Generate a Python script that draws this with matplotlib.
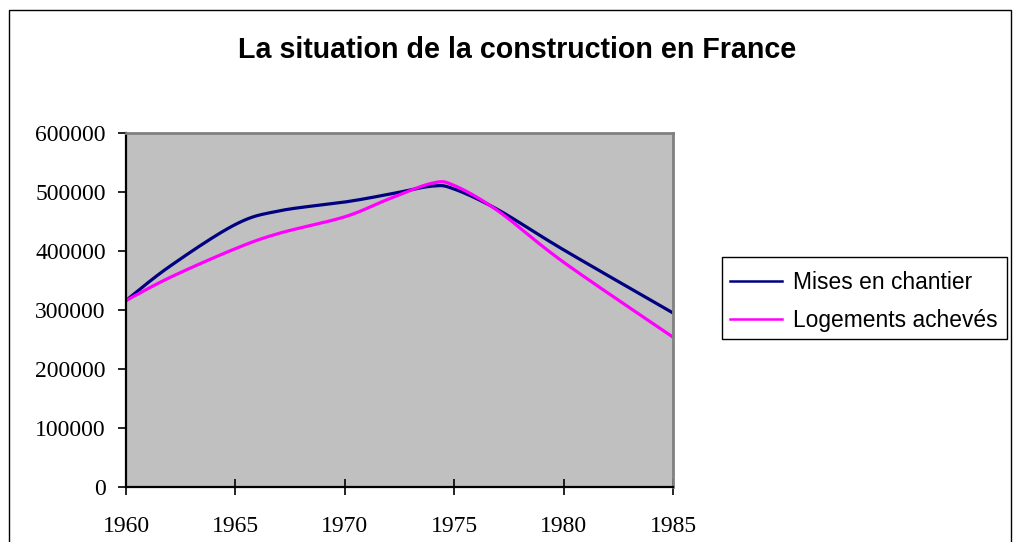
import numpy as np
import matplotlib
matplotlib.use("Agg")
import matplotlib.pyplot as plt
from matplotlib.patches import Rectangle

# ---- data ----
years = [1960, 1962, 1965, 1967, 1970, 1972, 1974, 1975, 1977, 1980, 1985]
mises_en_chantier = [316000, 374000, 445000, 468000, 483000, 496000, 510000, 505000, 470000, 402000, 295000]
logements_acheves = [316000, 355000, 404000, 430000, 458000, 488000, 515000, 511000, 468000, 381000, 254000]
series_names = ["Mises en chantier", "Logements achevés"]
series_colors = ["#000080", "#FF00FF"]
x_ticks = [1960, 1965, 1970, 1975, 1980, 1985]
y_ticks = [0, 100000, 200000, 300000, 400000, 500000, 600000]
title = "La situation de la construction en France"


def smooth(xs, ys, n=30):
    """Excel-like smoothed line (Catmull-Rom style cubic Bezier)."""
    xs = np.asarray(xs, float)
    ys = np.asarray(ys, float)
    px, py = [], []
    m = len(xs)
    t = np.linspace(0, 1, n)
    for i in range(m - 1):
        i0 = max(i - 1, 0)
        i3 = min(i + 2, m - 1)
        p1 = np.array([xs[i], ys[i]])
        p2 = np.array([xs[i + 1], ys[i + 1]])
        p0 = np.array([xs[i0], ys[i0]])
        p3 = np.array([xs[i3], ys[i3]])
        c1 = p1 + (p2 - p0) / 6.0
        c2 = p2 - (p3 - p1) / 6.0
        b = ((1 - t) ** 3)[:, None] * p1 + (3 * (1 - t) ** 2 * t)[:, None] * c1 \
            + (3 * (1 - t) * t ** 2)[:, None] * c2 + (t ** 3)[:, None] * p2
        px.extend(b[:, 0])
        py.extend(b[:, 1])
    return np.array(px), np.array(py)


W, H = 1016, 542
fig = plt.figure(figsize=(W / 100, H / 100), dpi=100)
fig.patch.set_facecolor("white")

# outer chart border
fig.patches.append(Rectangle((9 / W, -0.05), (1011 - 9) / W, 1.05 - 10 / H,
                             transform=fig.transFigure, fill=False,
                             edgecolor="black", linewidth=1.0))

ax = fig.add_axes([126 / W, 55 / H, (673 - 126) / W, (487 - 133) / H])
ax.set_facecolor("#C0C0C0")

for vals, name, col in zip([mises_en_chantier, logements_acheves], series_names, series_colors):
    sx, sy = smooth(years, vals)
    ax.plot(sx, sy, color=col, linewidth=2.3, label=name, solid_capstyle="butt")

ax.set_xlim(1960, 1985)
ax.set_ylim(0, 600000)
ax.set_xticks(x_ticks)
ax.set_yticks(y_ticks)
ax.set_xticklabels([str(v) for v in x_ticks], fontfamily="Liberation Serif", fontsize=17)
ax.set_yticklabels([str(v) for v in y_ticks], fontfamily="Liberation Serif", fontsize=17)
ax.tick_params(axis="x", direction="inout", length=12, width=1.2, pad=15, colors="black")
ax.tick_params(axis="y", direction="out", length=6, width=1.2, pad=8.5, colors="black")

for s in ["left", "bottom"]:
    ax.spines[s].set_color("black")
    ax.spines[s].set_linewidth(1.6)
for s in ["top", "right"]:
    ax.spines[s].set_color("#808080")
    ax.spines[s].set_linewidth(2.0)

fig.text(517 / W, 1 - 58.5 / H, title, ha="center", va="baseline",
         fontfamily="Liberation Sans", fontweight="bold", fontsize=20.6)

# legend frame drawn explicitly
fig.patches.append(Rectangle((722 / W, 1 - 339 / H), (1007 - 722) / W, (339 - 257) / H,
                             transform=fig.transFigure, fill=True, facecolor="white",
                             edgecolor="black", linewidth=1.0))
handles = [plt.Line2D([], [], color=c, linewidth=1.8) for c in series_colors]
leg = fig.legend(handles, series_names, loc="upper left",
                 bbox_to_anchor=(730 / W, 1 - 271 / H),
                 prop={"family": "Liberation Sans", "size": 16.4},
                 frameon=False,
                 handlelength=2.3, handletextpad=0.45, borderpad=0.0,
                 labelspacing=0.66, borderaxespad=0.0)

fig.savefig("out.png", dpi=100)
